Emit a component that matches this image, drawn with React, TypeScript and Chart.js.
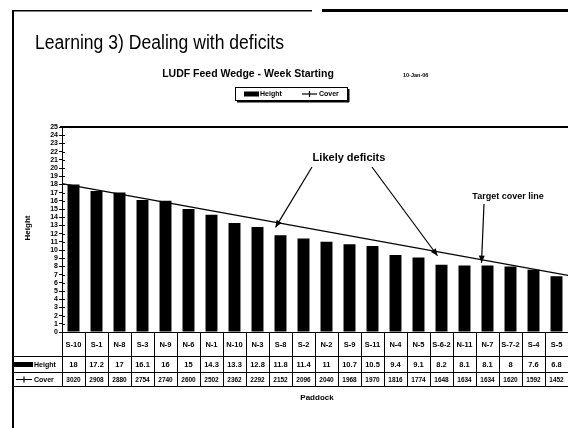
import { useEffect, useRef } from "react";
import { Chart, registerables } from "chart.js";

Chart.register(...registerables);

const paddocks = ["S-10", "S-1", "N-8", "S-3", "N-9", "N-6", "N-1", "N-10", "N-3", "S-8", "S-2", "N-2", "S-9", "S-11", "N-4", "N-5", "S-6-2", "N-11", "N-7", "S-7-2", "S-4", "S-5"];
const heightValues = [18, 17.2, 17, 16.1, 16, 15, 14.3, 13.3, 12.8, 11.8, 11.4, 11, 10.7, 10.5, 9.4, 9.1, 8.2, 8.1, 8.1, 8, 7.6, 6.8];
const coverValues = [3020, 2908, 2880, 2754, 2740, 2600, 2502, 2362, 2292, 2152, 2096, 2040, 1968, 1970, 1816, 1774, 1648, 1634, 1634, 1620, 1592, 1452];
const heightLabels = ["18", "17.2", "17", "16.1", "16", "15", "14.3", "13.3", "12.8", "11.8", "11.4", "11", "10.7", "10.5", "9.4", "9.1", "8.2", "8.1", "8.1", "8", "7.6", "6.8"];
// Target cover line: value at the left and right edge of the plot
const targetLine = [18.1, 6.9];
const yMin = 0;
const yMax = 25;
// Arrow tips: category index the arrow points at
const deficitArrowIdx = [9, 16];
const targetArrowIdx = 18;

const FONT = "'Liberation Sans', Arial, sans-serif";

function arrow(ctx: CanvasRenderingContext2D, x1: number, y1: number, x2: number, y2: number) {
  ctx.save();
  ctx.strokeStyle = "#000";
  ctx.fillStyle = "#000";
  ctx.lineWidth = 1.2;
  ctx.beginPath();
  ctx.moveTo(x1, y1);
  ctx.lineTo(x2, y2);
  ctx.stroke();
  const a = Math.atan2(y2 - y1, x2 - x1);
  const L = 7;
  const W = 3;
  ctx.beginPath();
  ctx.moveTo(x2, y2);
  ctx.lineTo(x2 - L * Math.cos(a) + W * Math.sin(a), y2 - L * Math.sin(a) - W * Math.cos(a));
  ctx.lineTo(x2 - L * Math.cos(a) - W * Math.sin(a), y2 - L * Math.sin(a) + W * Math.cos(a));
  ctx.closePath();
  ctx.fill();
  ctx.restore();
}

const decor = {
  id: "decor",
  afterDraw(chart: any) {
    const ctx: CanvasRenderingContext2D = chart.ctx;
    const area = chart.chartArea;
    const xs = chart.scales.x;
    const ys = chart.scales.y;
    const n = paddocks.length;
    const cw = (area.right - area.left) / n;
    ctx.save();
    ctx.fillStyle = "#000";
    ctx.strokeStyle = "#000";

    // slide frame
    ctx.fillRect(12, 10, 2, 418);
    ctx.fillRect(12, 10, 300, 1.5);
    ctx.fillRect(322, 9, 246, 3);

    // slide title
    ctx.font = `20px ${FONT}`;
    ctx.textAlign = "left";
    ctx.textBaseline = "alphabetic";
    ctx.fillText("Learning 3) Dealing with deficits", 35, 49, 249);

    // chart title
    ctx.font = `bold 10.5px ${FONT}`;
    ctx.textAlign = "center";
    ctx.textBaseline = "middle";
    ctx.fillText("LUDF Feed Wedge - Week Starting", 248, 74);
    ctx.font = `bold 5.5px ${FONT}`;
    ctx.textAlign = "left";
    ctx.fillText("10-Jan-06", 403, 75);

    // legend box
    ctx.fillStyle = "#fff";
    ctx.fillRect(235, 87, 113, 14);
    ctx.strokeStyle = "#000";
    ctx.lineWidth = 1;
    ctx.strokeRect(235.5, 87.5, 112, 13);
    ctx.fillStyle = "#000";
    ctx.fillRect(348, 89, 1.5, 13);
    ctx.fillRect(237, 101, 112, 1.5);
    ctx.fillRect(244, 91.5, 15, 5);
    ctx.font = `bold 7px ${FONT}`;
    ctx.textBaseline = "middle";
    ctx.fillText("Height", 260, 94.5);
    ctx.lineWidth = 1.2;
    ctx.beginPath();
    ctx.moveTo(302, 94);
    ctx.lineTo(317, 94);
    ctx.stroke();
    ctx.beginPath();
    ctx.moveTo(309.5, 91);
    ctx.lineTo(309.5, 97);
    ctx.stroke();
    ctx.fillText("Cover", 319, 94.5);

    // plot frame
    ctx.fillRect(area.left - 2, area.top - 1, area.right - area.left + 2, 2);
    ctx.fillRect(area.left, area.bottom, area.right - area.left, 1);
    // inner tick marks
    ctx.lineWidth = 1;
    for (let v = yMin; v <= yMax; v++) {
      const y = Math.round(ys.getPixelForValue(v)) + 0.5;
      ctx.beginPath();
      ctx.moveTo(area.left, y);
      ctx.lineTo(area.left + 3, y);
      ctx.stroke();
    }

    // target cover line
    ctx.lineWidth = 1.4;
    const yl = ys.getPixelForValue(targetLine[0]);
    const yr = ys.getPixelForValue(targetLine[1]);
    ctx.beginPath();
    ctx.moveTo(area.left, yl);
    ctx.lineTo(area.right, yr);
    ctx.stroke();
    const lineY = (x: number) => yl + ((x - area.left) / (area.right - area.left)) * (yr - yl);

    // annotations
    ctx.font = `bold 11px ${FONT}`;
    ctx.textAlign = "center";
    ctx.fillText("Likely deficits", 349, 158);
    const t1x = xs.getPixelForValue(deficitArrowIdx[0]) - 5;
    arrow(ctx, 312, 167, t1x, lineY(t1x) + 5);
    const t2x = xs.getPixelForValue(deficitArrowIdx[1]) - 4;
    arrow(ctx, 372, 167, t2x, lineY(t2x) + 4);
    ctx.font = `bold 9px ${FONT}`;
    ctx.fillText("Target cover line", 508, 197);
    const t3x = xs.getPixelForValue(targetArrowIdx) - 6;
    arrow(ctx, 484, 204, t3x, lineY(t3x) + 3);

    // axis titles
    ctx.font = `bold 8px ${FONT}`;
    ctx.save();
    ctx.translate(28, 228);
    ctx.rotate(-Math.PI / 2);
    ctx.fillText("Height", 0, 0);
    ctx.restore();
    ctx.fillText("Paddock", 317, 398);

    // data table
    const r0 = area.bottom;
    const r1 = 356;
    const r2 = 372;
    const r3 = 386;
    ctx.lineWidth = 1;
    ctx.beginPath();
    ctx.moveTo(14, r1 + 0.5);
    ctx.lineTo(area.right, r1 + 0.5);
    ctx.moveTo(14, r2 + 0.5);
    ctx.lineTo(area.right, r2 + 0.5);
    ctx.moveTo(14, r3 + 0.5);
    ctx.lineTo(area.right, r3 + 0.5);
    for (let i = 0; i <= n; i++) {
      const x = Math.round(area.left + i * cw) + 0.5;
      ctx.moveTo(x, r0);
      ctx.lineTo(x, r3);
    }
    ctx.stroke();
    for (let i = 0; i < n; i++) {
      const cx = xs.getPixelForValue(i);
      ctx.font = `bold 7.5px ${FONT}`;
      ctx.fillText(paddocks[i], cx, (r0 + r1) / 2 + 1, cw - 2);
      ctx.font = `bold 7.5px ${FONT}`;
      ctx.fillText(heightLabels[i], cx, (r1 + r2) / 2 + 1, cw - 2);
      ctx.font = `bold 6.5px ${FONT}`;
      ctx.fillText(String(coverValues[i]), cx, (r2 + r3) / 2 + 1, cw - 2);
    }
    // row headers
    ctx.fillRect(14, (r1 + r2) / 2 - 2, 19, 5);
    ctx.font = `bold 7px ${FONT}`;
    ctx.textAlign = "left";
    ctx.fillText("Height", 34, (r1 + r2) / 2 + 1, 26);
    ctx.lineWidth = 1.2;
    ctx.beginPath();
    ctx.moveTo(16, (r2 + r3) / 2 + 0.5);
    ctx.lineTo(32, (r2 + r3) / 2 + 0.5);
    ctx.moveTo(24, (r2 + r3) / 2 - 2.5);
    ctx.lineTo(24, (r2 + r3) / 2 + 3.5);
    ctx.stroke();
    ctx.fillText("Cover", 34, (r2 + r3) / 2 + 1, 26);

    ctx.restore();
  },
};

export default function App() {
  const ref = useRef<HTMLCanvasElement | null>(null);
  useEffect(() => {
    document.body.style.margin = "0";
    const canvas = ref.current;
    if (!canvas) return;
    const chart = new Chart(canvas, {
      type: "bar",
      data: {
        labels: paddocks,
        datasets: [
          {
            label: "Height",
            data: heightValues,
            backgroundColor: "#000",
            borderWidth: 0,
            barPercentage: 0.52,
            categoryPercentage: 1,
          },
        ],
      },
      options: {
        responsive: false,
        animation: false,
        events: [],
        layout: { padding: { left: 0, top: 127, right: 0, bottom: 96 } },
        plugins: { legend: { display: false }, title: { display: false }, tooltip: { enabled: false } },
        scales: {
          x: { display: false, offset: true, grid: { display: false } },
          y: {
            min: yMin,
            max: yMax,
            ticks: {
              stepSize: 1,
              autoSkip: false,
              color: "#000",
              padding: 1,
              font: { size: 7, weight: "bold", family: FONT },
            },
            grid: { display: true, drawOnChartArea: false, drawTicks: true, tickLength: 3, color: "#000" },
            border: { display: true, color: "#000", width: 1 },
            afterFit: (scale: any) => {
              scale.width = 62;
            },
          },
        },
      },
      plugins: [decor],
    } as any);
    return () => chart.destroy();
  }, []);
  return <canvas ref={ref} width={568} height={428} style={{ display: "block" }} />;
}
